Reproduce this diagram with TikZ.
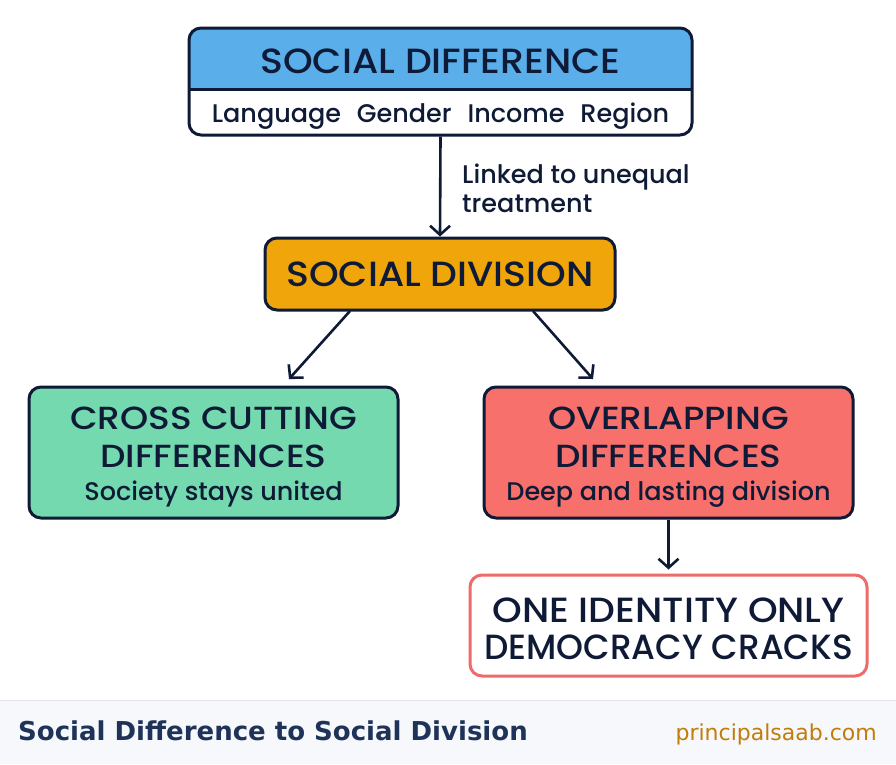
\documentclass[tikz,border=0pt]{standalone}
\usepackage{fontspec}
\setmainfont{Poppins}[UprightFont=* Medium,BoldFont=* SemiBold]
\newfontfamily\headfont{Poppins Medium}[FakeStretch=1.08]
\newfontfamily\narrowheadfont{Poppins Medium}[FakeStretch=0.98]
\newfontfamily\boxheadfont{Poppins Medium}[FakeStretch=1.12]
\newfontfamily\footfont{DejaVu Sans}
\usetikzlibrary{arrows.meta}
\definecolor{navy}{HTML}{0E1A36}
\definecolor{hblue}{HTML}{5AAEEA}
\definecolor{horange}{HTML}{F0A60A}
\definecolor{hgreen}{HTML}{74D9AE}
\definecolor{hred}{HTML}{F7706B}
\definecolor{bred}{HTML}{EE6B6B}
\definecolor{footbg}{HTML}{F6F8FB}
\definecolor{footline}{HTML}{E2E6EA}
\definecolor{foottext}{HTML}{1F3359}
\definecolor{linkc}{HTML}{C27C0A}
\tikzset{
  box/.style={draw=navy, line width=3pt, rounded corners=12pt, inner sep=0pt},
  bighead/.style={text=navy, font=\headfont\fontsize{35}{38}\selectfont, anchor=base, inner sep=0pt},
  boxhead/.style={text=navy, font=\boxheadfont\fontsize{32}{35}\selectfont, anchor=base, inner sep=0pt},
  subtxt/.style={text=navy, font=\fontsize{25.5}{28}\selectfont, anchor=base, inner sep=0pt},
  conn/.style={draw=navy, line width=2.6pt, -{Straight Barb[length=9pt,width=20pt]}},
}
\begin{document}
\begin{tikzpicture}[x=1pt,y=-1pt]
\useasboundingbox (0,0) rectangle (896,764);
\fill[white] (0,0) rectangle (896,764);
% footer
\fill[footbg] (0,700) rectangle (896,764);
\draw[footline, line width=1pt] (0,700) -- (896,700);
\node[anchor=base west, inner sep=0pt, text=foottext, font=\footfont\bfseries\fontsize{26}{28}\selectfont] (ftitle) at (18,740) {Social Difference to Social Division};
\node[anchor=base east, inner sep=0pt, text=linkc, font=\footfont\fontsize{22}{24}\selectfont] (flink) at (877,740) {principalsaab.com};

% top box
\fill[hblue, rounded corners=12pt] (189,28) rectangle (692,90);
\fill[hblue] (189,70) rectangle (692,89);
\draw[navy, line width=3pt] (189,89) -- (692,89);
\node[box, minimum width=503pt, minimum height=107pt] (top) at (440.5,81.5) {};
\node[bighead] (sdt) at (440.5,73) {SOCIAL DIFFERENCE};
\node[subtxt] (sdsub) at (440.5,122) {Language\hspace{0.62em}Gender\hspace{0.62em}Income\hspace{0.62em}Region};

% division
\node[box, fill=horange, minimum width=350pt, minimum height=72pt] (div) at (440,274) {};
\node[bighead] (divt) at (440,286) {SOCIAL DIVISION};
\draw[conn] (top.south) -- (div.north);
\node[subtxt, anchor=base west, align=left] (lnk1) at (462,183) {Linked to unequal};
\node[subtxt, anchor=base west, align=left] (lnk2) at (462,212) {treatment};

% cross cutting
\node[box, fill=hgreen, minimum width=369pt, minimum height=131pt] (cross) at (213.5,452.5) {};
\node[boxhead] (c1) at (213.5,429) {CROSS CUTTING};
\node[boxhead] (c2) at (213.5,467) {DIFFERENCES};
\node[subtxt] (c3) at (213.5,500) {Society stays united};

% overlapping
\node[box, fill=hred, minimum width=369pt, minimum height=131pt] (over) at (668.5,452.5) {};
\node[boxhead] (o1) at (668.5,429) {OVERLAPPING};
\node[boxhead] (o2) at (668.5,467) {DIFFERENCES};
\node[subtxt] (o3) at (668.5,500) {Deep and lasting division};

% bottom
\node[box, draw=bred, fill=white, minimum width=397pt, minimum height=101pt] (res) at (668.5,625.5) {};
\node[bighead] (r1) at (668.5,622) {ONE IDENTITY ONLY};
\node[bighead, font=\narrowheadfont\fontsize{35}{38}\selectfont] (r2) at (668.5,659) {DEMOCRACY CRACKS};

% connectors
\coordinate (dl) at (350,311);
\coordinate (dr) at (533,311);
\coordinate (cl) at (289,379);
\coordinate (cr) at (593,379);
\draw[conn] (dl) -- (cl);
\draw[conn] (dr) -- (cr);
\draw[conn] (over.south) -- ([yshift=4pt]res.north);
\end{tikzpicture}
\end{document}
